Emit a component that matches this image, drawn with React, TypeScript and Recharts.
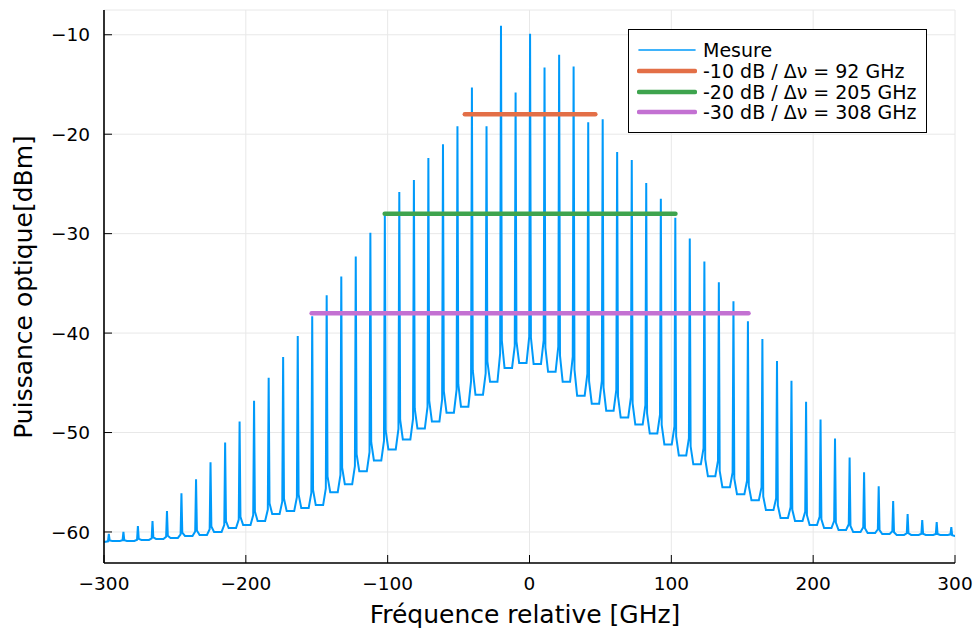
import { LineChart, Line, XAxis, YAxis, CartesianGrid, Legend } from "recharts";

// comb lines: frequency (GHz) and peak power (dBm)
const peakFreqs = [
  -296.6, -286.3, -276.1, -265.8, -255.6, -245.4, -235.1, -224.9, -214.6, -204.4,
  -194.2, -183.9, -173.7, -163.4, -153.2, -143.0, -132.7, -122.5, -112.2, -102.0,
  -91.8, -81.5, -71.3, -61.0, -50.8, -40.6, -30.3, -20.1, -9.8, 0.4,
  10.6, 20.9, 31.1, 41.4, 51.6, 61.8, 72.1, 82.3, 92.6, 102.8,
  113.0, 123.3, 133.5, 143.8, 154.0, 164.2, 174.5, 184.7, 195.0, 205.2,
  215.4, 225.7, 235.9, 246.2, 256.4, 266.6, 276.9, 287.1, 297.4,
];
const peakLevels = [
  -60.2, -60.0, -59.4, -58.9, -57.9, -56.1, -54.7, -53.0, -51.0, -48.9,
  -46.8, -44.5, -42.4, -40.3, -38.3, -36.2, -34.3, -32.3, -29.9, -28.2,
  -25.8, -24.6, -22.4, -21.0, -19.2, -15.3, -19.2, -9.1, -15.8, -9.9,
  -13.3, -12.0, -13.2, -18.8, -18.5, -21.8, -22.6, -24.9, -26.5, -28.4,
  -30.5, -32.8, -34.9, -36.8, -38.8, -40.6, -42.8, -44.8, -46.9, -48.7,
  -50.6, -52.5, -54.0, -55.4, -56.9, -58.2, -58.8, -59.0, -59.5,
];
// noise floor: left edge, between each pair of lines, right edge
const floorLevels = [
  -61.0, -60.9, -60.9, -60.8, -60.7, -60.6, -60.4, -60.3, -60.0, -59.6,
  -59.3, -58.9, -58.2, -57.9, -57.6, -57.3, -56.0, -55.2, -53.9, -52.8,
  -51.7, -50.7, -49.6, -48.9, -48.0, -47.4, -46.2, -44.9, -43.5, -43.0,
  -43.1, -43.9, -44.9, -46.3, -47.1, -47.8, -48.5, -49.2, -50.1, -51.2,
  -52.3, -53.2, -54.4, -55.5, -56.2, -56.8, -57.8, -58.6, -58.9, -59.3,
  -59.6, -59.8, -60.0, -60.1, -60.2, -60.3, -60.3, -60.3, -60.3, -60.4,
];

const bandLabels = ["-10 dB / Δν = 92 GHz", "-20 dB / Δν = 205 GHz", "-30 dB / Δν = 308 GHz"];
const bandLevels = [-18, -28, -38];
const bandWidths = [92, 205, 308];
const bandCenter = 0.4;

const xTicks = [-300, -200, -100, 0, 100, 200, 300];
const yTicks = [-60, -50, -40, -30, -20, -10];

const colors = ["#009AFA", "#E36F47", "#3EA44E", "#C371D2"];
const FONT = "'DejaVu Sans', sans-serif";

// spike shape: narrow tip, small foot, flat floor in between
const HALF = 0.6;
const SKIRT = 2.5;
const FOOT = 0.08;

const mesure: { f: number; p: number }[] = [{ f: -300, p: floorLevels[0] }];
peakFreqs.forEach((f, i) => {
  const pk = peakLevels[i];
  const lo = floorLevels[i];
  const hi = floorLevels[i + 1];
  if (i > 0) {
    mesure.push({ f: (peakFreqs[i - 1] + f) / 2, p: lo });
    mesure.push({ f: f - SKIRT, p: lo });
  }
  mesure.push({ f: f - HALF, p: lo + (pk - lo) * FOOT });
  mesure.push({ f, p: pk });
  mesure.push({ f: f + HALF, p: hi + (pk - hi) * FOOT });
  if (f + SKIRT < 300) mesure.push({ f: f + SKIRT, p: hi });
});
mesure.push({ f: 300, p: floorLevels[floorLevels.length - 1] });

const bands = bandLevels.map((lvl, i) => [
  { f: bandCenter - bandWidths[i] / 2, p: lvl },
  { f: bandCenter + bandWidths[i] / 2, p: lvl },
]);

const fmt = (v: number) => (v < 0 ? "\u2212" + Math.abs(v) : String(v));

function LegendBox() {
  const rows = [{ label: "Mesure", color: colors[0], w: 1.6 }].concat(
    bandLabels.map((label, i) => ({ label, color: colors[i + 1], w: 4.5 }))
  );
  return (
    <div
      style={{
        boxSizing: "border-box",
        width: 299,
        height: 104,
        border: "1.3px solid #000",
        background: "#fff",
        paddingTop: 10,
        fontFamily: FONT,
        fontSize: 19,
        color: "#000",
      }}
    >
      {rows.map((r) => (
        <div key={r.label} style={{ display: "flex", alignItems: "center", height: 20.7 }}>
          <svg width={60} height={8} style={{ marginLeft: 8 }}>
            <line x1={2} y1={4} x2={58} y2={4} stroke={r.color} strokeWidth={r.w} strokeLinecap="round" />
          </svg>
          <span style={{ marginLeft: 6, whiteSpace: "nowrap", lineHeight: "20px" }}>{r.label}</span>
        </div>
      ))}
    </div>
  );
}

export default function App() {
  return (
    <div style={{ position: "absolute", left: 0, top: 0, width: 979, height: 631, background: "#fff" }}>
      <LineChart width={979} height={631} margin={{ top: 10, right: 24, left: 0, bottom: 0 }} style={{ fontFamily: FONT }}>
        <CartesianGrid stroke="#e8e8e8" strokeWidth={1} />
        <XAxis
          dataKey="f"
          type="number"
          domain={[-300, 300]}
          ticks={xTicks}
          allowDataOverflow
          height={68}
          tickFormatter={fmt}
          tickSize={-8}
          tickMargin={22}
          tick={{ fontSize: 18.5, fill: "#000", fontFamily: FONT }}
          axisLine={{ stroke: "#000", strokeWidth: 1.6 }}
          tickLine={{ stroke: "#000", strokeWidth: 1 }}
          label={{
            content: () => (
              <text x={525} y={623} textAnchor="middle" fontSize={25} fontFamily={FONT} fill="#000">
                Fréquence relative [GHz]
              </text>
            ),
          }}
        />
        <YAxis
          type="number"
          domain={[-63.12, -7.51]}
          ticks={yTicks}
          allowDataOverflow
          width={104}
          tickFormatter={fmt}
          tickSize={-8}
          tickMargin={22}
          tick={{ fontSize: 18.5, fill: "#000", fontFamily: FONT }}
          axisLine={{ stroke: "#000", strokeWidth: 1.6 }}
          tickLine={{ stroke: "#000", strokeWidth: 1 }}
          label={{
            content: () => (
              <text
                x={32}
                y={287}
                transform="rotate(-90 32 287)"
                textAnchor="middle"
                fontSize={25}
                fontFamily={FONT}
                fill="#000"
              >
                Puissance optique[dBm]
              </text>
            ),
          }}
        />
        <Line
          data={mesure}
          dataKey="p"
          name="Mesure"
          type="linear"
          stroke={colors[0]}
          strokeWidth={2}
          dot={false}
          activeDot={false}
          isAnimationActive={false}
        />
        {bands.map((d, i) => (
          <Line
            key={bandLabels[i]}
            data={d}
            dataKey="p"
            name={bandLabels[i]}
            type="linear"
            stroke={colors[i + 1]}
            strokeWidth={4.5}
            strokeLinecap="round"
            dot={false}
            activeDot={false}
            isAnimationActive={false}
          />
        ))}
        <Legend
          layout="vertical"
          align="center"
          verticalAlign="middle"
          wrapperStyle={{ left: 628, top: 29, width: 299, height: 104 }}
          content={() => <LegendBox />}
        />
      </LineChart>
    </div>
  );
}
